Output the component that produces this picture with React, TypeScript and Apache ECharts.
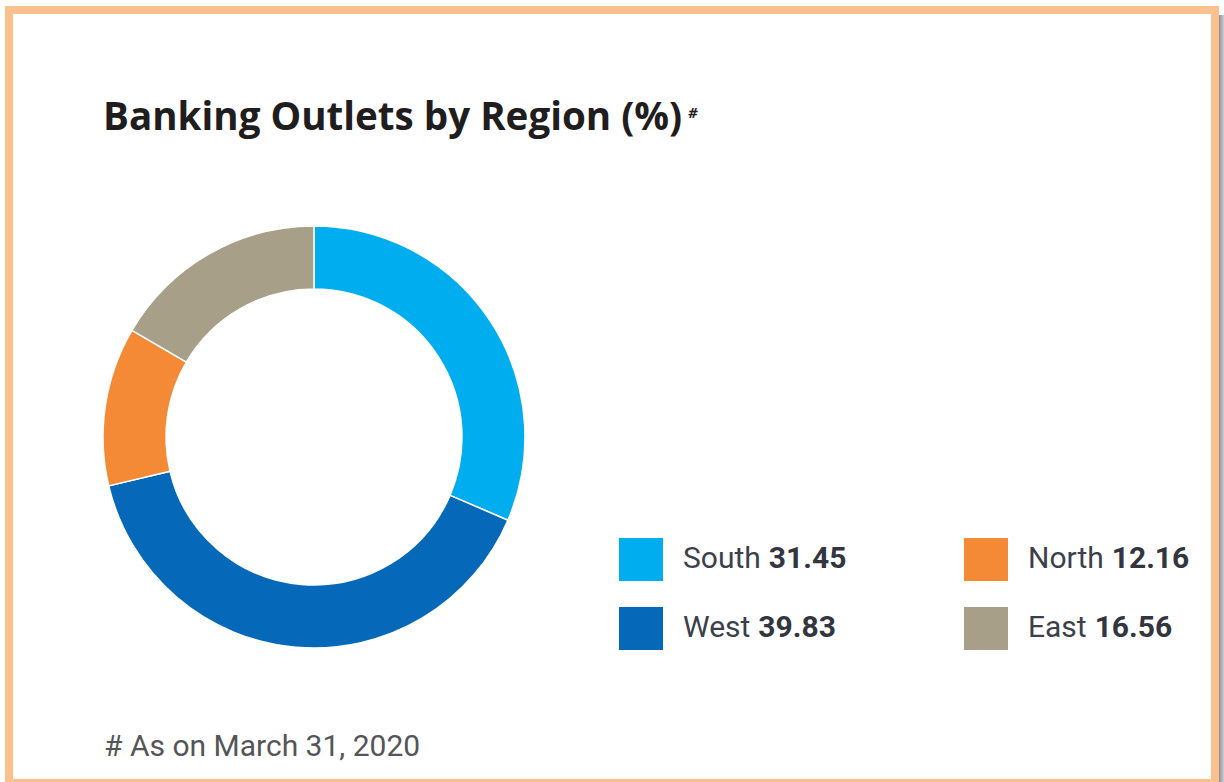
import React, { useEffect, useRef } from "react";
import * as echarts from "echarts";

const regions = ["South", "West", "North", "East"];
const shares = [31.45, 39.83, 12.16, 16.56];
const sliceColors = ["#00AEEF", "#0668B9", "#F58A36", "#A79F88"];
const legendLeftColumn = ["South", "West"];
const legendRightColumn = ["North", "East"];
const titleText = "Banking Outlets by Region (%)";
const footnoteText = "# As on March 31, 2020";

export default function App() {
  const ref = useRef<HTMLDivElement>(null);
  useEffect(() => {
    document.body.style.margin = "0";
    const chart = echarts.init(ref.current!, null, { renderer: "svg" });
    const valueOf = (name: string) => shares[regions.indexOf(name)].toFixed(2);
    const legendBase = {
      orient: "vertical",
      top: 536,
      padding: 0,
      itemWidth: 46,
      itemHeight: 45,
      itemGap: 22,
      icon: "rect",
      selectedMode: false,
      formatter: (name: string) => `{n|${name}}{v|${valueOf(name)}}`,
      textStyle: {
        rich: {
          n: { fontFamily: "Roboto", fontSize: 30, color: "#3d3f4a", padding: [0, 8, 5, 14] },
          v: { fontFamily: "Roboto", fontSize: 30, fontWeight: "bold", color: "#34363f", padding: [0, 0, 5, 0] },
        },
      },
    };
    chart.setOption({
      animation: false,
      backgroundColor: "#ffffff",
      legend: [
        { ...legendBase, left: 617, data: legendLeftColumn },
        { ...legendBase, left: 962, data: legendRightColumn },
      ],
      graphic: [
        {
          type: "rect",
          shape: { x: 1219, y: 15, width: 5, height: 767 },
          style: {
            fill: new echarts.graphic.LinearGradient(0, 0, 1, 0, [
              { offset: 0, color: "#8f8f8f" },
              { offset: 1, color: "#cfcfcf" },
            ]),
          },
          silent: true,
        },
        {
          type: "rect",
          shape: { x: 9, y: 10, width: 1206, height: 773 },
          style: { fill: "none", stroke: "#FAC18F", lineWidth: 8 },
          silent: true,
        },
        {
          type: "text",
          x: 103,
          y: 115,
          style: {
            text: titleText,
            fontFamily: "Open Sans",
            fontWeight: "bold",
            fontSize: 38.6,
            fill: "#1f1d1e",
            verticalAlign: "middle",
          },
        },
        {
          type: "text",
          x: 688,
          y: 112,
          style: {
            text: "#",
            fontFamily: "Open Sans",
            fontWeight: "bold",
            fontStyle: "italic",
            fontSize: 15,
            fill: "#1f1d1e",
            verticalAlign: "middle",
          },
        },
        {
          type: "text",
          x: 104,
          y: 745,
          style: {
            text: footnoteText,
            fontFamily: "Roboto",
            fontSize: 30,
            fill: "#555558",
            verticalAlign: "middle",
          },
        },
      ],
      series: [
        {
          type: "pie",
          center: [314, 437],
          radius: [148, 211],
          startAngle: 90,
          clockwise: true,
          label: { show: false },
          labelLine: { show: false },
          silent: true,
          itemStyle: { borderColor: "#ffffff", borderWidth: 1.5 },
          data: regions.map((r, i) => ({
            name: r,
            value: shares[i],
            itemStyle: { color: sliceColors[i] },
          })),
        },
      ],
    });
    return () => chart.dispose();
  }, []);
  return <div ref={ref} style={{ width: 1224, height: 782 }} />;
}
